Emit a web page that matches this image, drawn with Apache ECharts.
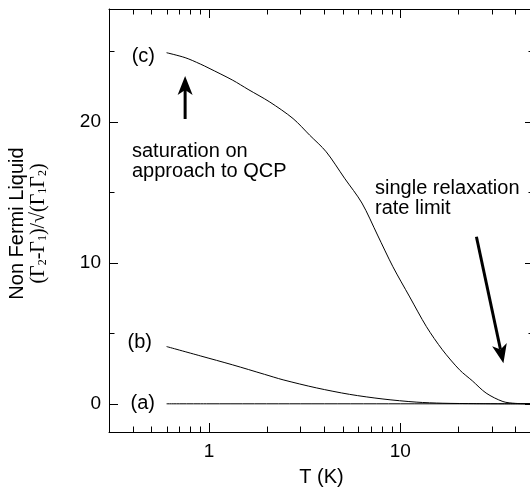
<!DOCTYPE html>
<html><head><meta charset="utf-8">
<script src="https://cdn.jsdelivr.net/npm/echarts@6/dist/echarts.min.js"></script>
<style>html,body{margin:0;padding:0;background:#fff}#c{width:530px;height:495px}</style>
</head><body><div id="c"></div>
<script>
// ---- data ----
const tempA = [0.6, 1, 3, 10, 20, 50];
const valA  = [0, 0, 0, 0, 0, 0];

const tempB = [0.6, 0.9, 1.33, 1.95, 2.44, 3.64, 5.43, 8.12, 12.1, 16.7, 25, 35, 50];
const valB  = [4.06, 3.4, 2.76, 2.09, 1.7, 1.13, 0.67, 0.34, 0.12, 0.04, 0.01, 0, 0];

const tempC = [0.6, 0.75, 0.9, 1.0, 1.33, 1.6, 2.08, 2.75, 3.36, 4.1, 5.11, 6.3, 7.6, 9.15, 11.2, 13.7, 16.6, 20.4, 23.8, 28.1, 34.4, 40, 50];
const valC  = [24.9, 24.55, 24.1, 23.8, 22.95, 22.3, 21.4, 20.23, 19.05, 17.87, 16.0, 14.24, 11.97, 9.72, 7.58, 5.47, 3.83, 2.41, 1.63, 0.76, 0.16, 0.03, 0];

const xMin = 0.3, xMax = 50;
const yMin = -2, yMax = 28;
const xMajorTicks = [1, 10];
const xMinorTicks = [0.4, 0.5, 0.6, 0.7, 0.8, 0.9, 2, 3, 4, 5, 6, 7, 8, 9, 20, 30, 40];

// arrows: [fromT, fromY, toT, toY]
const arrowUp   = [0.75, 20.2, 0.75, 23.25];
const arrowDiag = [25, 11.85, 34.6, 2.88];

const SANS = 'Liberation Sans, Arial, Helvetica, sans-serif';
const SERIF = 'Liberation Serif, Times New Roman, serif';

const zip = (xs, ys) => xs.map((x, i) => [x, ys[i]]);

const chart = echarts.init(document.getElementById('c'), null, {renderer: 'canvas'});

const isDecade = v => Math.abs(Math.log10(v) - Math.round(Math.log10(v))) < 1e-6;

function xAxisCfg(pos, showLabel) {
  return {
    type: 'log', logBase: 10, min: xMin, max: xMax, position: pos,
    axisLine: {show: true, onZero: false, lineStyle: {color: '#000', width: 1}},
    axisTick: {show: false},
    axisLabel: {show: showLabel, color: '#000', fontSize: 19, fontFamily: SANS, margin: 10,
      formatter: v => isDecade(v) ? String(Math.round(v)) : ''},
    splitLine: {show: false}, minorTick: {show: false}, minorSplitLine: {show: false},
    name: showLabel ? 'T (K)' : '', nameLocation: 'middle', nameGap: 35,
    nameTextStyle: {color: '#000', fontSize: 20, fontFamily: SANS}
  };
}
function yAxisCfg(pos, showLabel) {
  const c = {
    type: 'value', min: yMin, max: yMax, splitNumber: 3, position: pos,
    axisLine: {show: true, onZero: false, lineStyle: {color: '#000', width: 1}},
    axisTick: {show: true, inside: true, length: 9, lineStyle: {color: '#000', width: 1}},
    minorTick: {show: true, splitNumber: 2, length: 5.5, lineStyle: {color: '#000', width: 1}},
    axisLabel: {show: showLabel, color: '#000', fontSize: 19, fontFamily: SANS, margin: 8,
      formatter: v => (v % 10 === 0) ? String(v) : ''},
    splitLine: {show: false}, minorSplitLine: {show: false}
  };
  if (showLabel) {
    c.name = '{a|Non Fermi Liquid}\n{g|(Γ}{s|2}{g|-Γ}{s|1}{g|)/√(Γ}{s|1}{g|Γ}{s|2}{g|)}';
    c.nameLocation = 'middle';
    c.nameRotate = 90;
    c.nameGap = 60;
    c.nameTextStyle = {
      color: '#000', padding: [0, 6, 0, 0],
      rich: {
        a: {fontFamily: SANS, fontSize: 20, lineHeight: 21, color: '#000'},
        g: {fontFamily: SERIF, fontSize: 20, lineHeight: 21, color: '#000'},
        s: {fontFamily: SERIF, fontSize: 12, lineHeight: 10, verticalAlign: 'bottom', color: '#000'}
      }
    };
  }
  return c;
}

const lineSeries = (name, xs, ys) => ({
  name, type: 'line', xAxisIndex: 0, yAxisIndex: 0,
  data: zip(xs, ys), showSymbol: false, symbol: 'none',
  smooth: 0.3,
  lineStyle: {color: '#000', width: 1}, z: 5
});

// x ticks (log-decade majors + 2..9 minors) on bottom and top edges
function renderXTicks(params, api) {
  const v = api.value(0);
  const len = api.value(2);
  const b = api.coord([v, yMin]);
  const t = api.coord([v, yMax]);
  const x = Math.round(b[0]) + 0.5;
  return {type: 'group', children: [
    {type: 'line', shape: {x1: x, y1: b[1], x2: x, y2: b[1] - len}, style: {stroke: '#000', lineWidth: 1}},
    {type: 'line', shape: {x1: x, y1: t[1], x2: x, y2: t[1] + len}, style: {stroke: '#000', lineWidth: 1}}
  ]};
}

function renderArrow(params, api) {
  const p1 = api.coord([api.value(0), api.value(1)]);
  const p2 = api.coord([api.value(2), api.value(3)]);
  const dx = p2[0] - p1[0], dy = p2[1] - p1[1];
  const len = Math.sqrt(dx * dx + dy * dy);
  const ux = dx / len, uy = dy / len;
  const nx = -uy, ny = ux;
  const L = 19, W = 7.5, notch = 5;
  const base = [p2[0] - ux * L, p2[1] - uy * L];
  const back = [p2[0] - ux * (L - notch), p2[1] - uy * (L - notch)];
  return {type: 'group', children: [
    {type: 'line', shape: {x1: p1[0], y1: p1[1], x2: back[0], y2: back[1]},
      style: {stroke: '#000', lineWidth: 3}},
    {type: 'polygon', shape: {points: [
      p2, [base[0] + nx * W, base[1] + ny * W], back, [base[0] - nx * W, base[1] - ny * W]
    ]}, style: {fill: '#000'}}
  ]};
}

const txt = (text, x, y, align) => ({
  type: 'text', x, y, silent: true,
  style: {text, fill: '#000', fontSize: 20, fontFamily: SANS, align: align || 'left', verticalAlign: 'middle'}
});

const tickData = xMajorTicks.map(v => [v, yMin, 9]).concat(xMinorTicks.map(v => [v, yMin, 5.5]));

chart.setOption({
  animation: false,
  backgroundColor: '#fff',
  grid: {left: 109, top: 9, width: 425, height: 423, containLabel: false, outerBoundsMode: 'none'},
  xAxis: [xAxisCfg('bottom', true), xAxisCfg('top', false)],
  yAxis: [yAxisCfg('left', true), yAxisCfg('right', false)],
  series: [
    lineSeries('(a)', tempA, valA),
    lineSeries('(b)', tempB, valB),
    lineSeries('(c)', tempC, valC),
    {type: 'custom', name: 'x ticks', xAxisIndex: 0, yAxisIndex: 0, silent: true, clip: false,
      data: tickData, encode: {x: 0, y: 1}, renderItem: renderXTicks, z: 10},
    {type: 'custom', name: 'arrows', xAxisIndex: 0, yAxisIndex: 0, silent: true, clip: false,
      data: [arrowUp, arrowDiag], encode: {x: [0, 2], y: [1, 3]}, renderItem: renderArrow, z: 7}
  ],
  graphic: [
    txt('(c)', 155, 56, 'right'),
    txt('(b)', 152, 342, 'right'),
    txt('(a)', 155, 403, 'right'),
    txt('saturation on', 132, 151),
    txt('approach to QCP', 132, 171),
    txt('single relaxation', 375, 188),
    txt('rate limit', 375, 208)
  ]
});
</script>
</body></html>
